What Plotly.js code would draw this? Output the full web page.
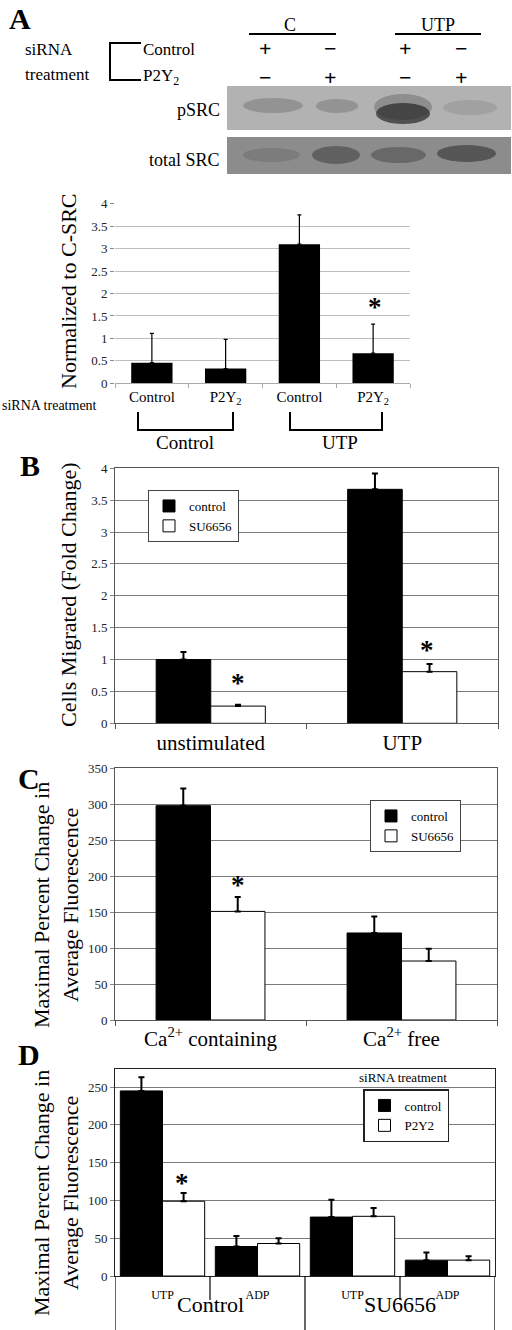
<!DOCTYPE html>
<html>
<head>
<meta charset="utf-8">
<script src="https://cdn.plot.ly/plotly-3.0.1.min.js"></script>
<style>html,body{margin:0;padding:0;background:#fff}#chart{width:512px;height:1330px}</style>
</head>
<body>
<div id="chart"></div>
<script>
// ---------- DATA ----------
// Panel A (densitometry, normalized to C-SRC)
const aKeys = ['C|Control', 'C|P2Y2', 'UTP|Control', 'UTP|P2Y2'];
const aTickText = ['Control', 'P2Y<sub>2</sub>', 'Control', 'P2Y<sub>2</sub>'];
const aValues = [0.46, 0.33, 3.10, 0.67];
const aErr = [0.65, 0.65, 0.65, 0.65];

// Panel B (cell migration, fold change)
const bCats = ['unstimulated', 'UTP'];
const bControl = [1.00, 3.67];
const bControlErr = [0.12, 0.25];
const bSU = [0.27, 0.81];
const bSUErr = [0.02, 0.12];

// Panel C (calcium response)
const cCats = ['Ca<sup>2+</sup> containing', 'Ca<sup>2+</sup> free'];
const cControl = [298, 121];
const cControlErr = [24, 23];
const cSU = [151, 82];
const cSUErr = [20, 17];

// Panel D (calcium response, siRNA)
const dGroups = ['Control', 'Control', 'SU6656', 'SU6656'];
const dStim = ['UTP', 'ADP', 'UTP', 'ADP'];
const dControl = [245, 39, 78, 21];
const dControlErr = [18, 14, 23, 10];
const dP2Y2 = [99, 43, 79, 21];
const dP2Y2Err = [11, 7, 11, 5];

// Blot header signs
const controlRow = ['+', '−', '+', '−'];
const p2y2Row = ['−', '+', '−', '+'];

// ---------- HELPERS ----------
const W = 512, H = 1330;
const X = px => px / W;
const Y = py => 1 - py / H;
const FONT = 'Liberation Serif';
const zeros = arr => arr.map(() => 0);
const dKeys = dGroups.map((g, i) => g + '|' + dStim[i]);

function err(arr, th, w) {
  return {type: 'data', array: arr, arrayminus: zeros(arr), symmetric: false,
          color: '#000', thickness: th, width: w, visible: true};
}

const traces = [
  // A
  {type: 'bar', x: aKeys, y: aValues, xaxis: 'x', yaxis: 'y', offset: -0.28, width: 0.56,
   marker: {color: '#000'}, error_y: err(aErr, 1.2, 2), showlegend: false, name: 'A'},
  // B
  {type: 'bar', x: bCats, y: bControl, xaxis: 'x2', yaxis: 'y2', offset: -0.285, width: 0.285,
   marker: {color: '#000', line: {color: '#000', width: 1}}, error_y: err(bControlErr, 2, 3),
   name: 'control', legend: 'legend'},
  {type: 'bar', x: bCats, y: bSU, xaxis: 'x2', yaxis: 'y2', offset: 0, width: 0.285,
   marker: {color: '#fff', line: {color: '#000', width: 1}}, error_y: err(bSUErr, 2, 3),
   name: 'SU6656', legend: 'legend'},
  // C
  {type: 'bar', x: cCats, y: cControl, xaxis: 'x3', yaxis: 'y3', offset: -0.285, width: 0.285,
   marker: {color: '#000', line: {color: '#000', width: 1}}, error_y: err(cControlErr, 2, 3),
   name: 'control', legend: 'legend2'},
  {type: 'bar', x: cCats, y: cSU, xaxis: 'x3', yaxis: 'y3', offset: 0, width: 0.285,
   marker: {color: '#fff', line: {color: '#000', width: 1}}, error_y: err(cSUErr, 2, 3),
   name: 'SU6656', legend: 'legend2'},
  // D
  {type: 'bar', x: dKeys, y: dControl, xaxis: 'x4', yaxis: 'y4', offset: -0.444, width: 0.444,
   marker: {color: '#000', line: {color: '#000', width: 1}}, error_y: err(dControlErr, 2, 3),
   name: 'control', legend: 'legend3'},
  {type: 'bar', x: dKeys, y: dP2Y2, xaxis: 'x4', yaxis: 'y4', offset: 0, width: 0.444,
   marker: {color: '#fff', line: {color: '#000', width: 1}}, error_y: err(dP2Y2Err, 2, 3),
   name: 'P2Y2', legend: 'legend3'}
];

// ---------- LAYOUT DECORATIONS ----------
const shapes = [];
const annotations = [];
function line(x0, y0, x1, y1, w, c) {
  shapes.push({type: 'line', xref: 'paper', yref: 'paper', x0: X(x0), y0: Y(y0), x1: X(x1), y1: Y(y1),
               line: {color: c || '#000', width: w || 2}});
}
function rect(x0, y0, x1, y1, fill) {
  shapes.push({type: 'rect', xref: 'paper', yref: 'paper', x0: X(x0), y0: Y(y0), x1: X(x1), y1: Y(y1),
               fillcolor: fill, line: {width: 0}, layer: 'below'});
}
function band(x0, y0, x1, y1, fill, op) {
  shapes.push({type: 'circle', xref: 'paper', yref: 'paper', x0: X(x0), y0: Y(y0), x1: X(x1), y1: Y(y1),
               fillcolor: fill, opacity: op, line: {width: 0}, layer: 'below'});
}
function txt(t, x, y, size, opts) {
  annotations.push(Object.assign({text: t, xref: 'paper', yref: 'paper', x: X(x), y: Y(y),
    showarrow: false, font: {family: FONT, size: size, color: '#000'}, xanchor: 'center', yanchor: 'middle'}, opts || {}));
}

// Panel letters
txt('<b>A</b>', 20, 18, 30);
txt('<b>B</b>', 30, 466, 30);
txt('<b>C</b>', 29, 778, 30);
txt('<b>D</b>', 29, 1054, 30);

// Blot header
txt('C', 290, 25, 18);
txt('UTP', 438, 25, 18);
line(249, 34, 336, 34, 2);
line(395, 34, 481, 34, 2);
txt('siRNA', 23, 49, 17, {xanchor: 'left'});
txt('treatment', 23, 75, 17, {xanchor: 'left'});
txt('Control', 141, 49, 17, {xanchor: 'left'});
txt('P2Y<sub>2</sub>', 141, 77, 17, {xanchor: 'left'});
shapes.push({type: 'path', xref: 'paper', yref: 'paper',
  path: `M ${X(141)},${Y(43)} L ${X(110)},${Y(43)} L ${X(110)},${Y(80)} L ${X(141)},${Y(80)}`,
  line: {color: '#000', width: 2}});
const laneX = [265, 330, 405, 461];
laneX.forEach((lx, i) => {
  txt('<b>' + controlRow[i] + '</b>', lx, 62.5, 22, {yanchor: 'bottom', borderpad: 0});
  txt('<b>' + p2y2Row[i] + '</b>', lx, 63.5, 22, {yanchor: 'top', borderpad: 0});
});
txt('pSRC', 222, 110, 18, {xanchor: 'right'});
txt('total SRC', 222, 160, 18, {xanchor: 'right'});

// Blot images (approximated)
rect(227, 86, 511, 130, '#b2b2b2');
rect(227, 137, 511, 174, '#8c8c8c');
band(243, 98, 303, 113, '#7e7e7e', 0.6);
band(316, 99, 358, 113, '#7e7e7e', 0.6);
band(374, 94, 432, 120, '#6a6a6a', 0.5);
band(376, 103, 430, 124, '#262626', 0.7);
band(443, 100, 497, 115, '#909090', 0.5);
band(243, 148, 300, 162, '#727272', 0.6);
band(312, 146, 360, 164, '#4f4f4f', 0.7);
band(371, 147, 426, 163, '#555', 0.65);
band(437, 145, 496, 162, '#444', 0.75);

// Panel A labels
txt('Normalized to C-SRC', 68, 291, 22, {textangle: -90});
txt('siRNA treatment', 0, 405, 14, {xanchor: 'left'});
line(138, 412, 138, 430, 2); line(137, 430, 234, 430, 2); line(233, 412, 233, 430, 2);
line(290, 412, 290, 430, 2); line(289, 430, 383, 430, 2); line(382, 412, 382, 430, 2);
txt('Control', 185, 442, 19);
txt('UTP', 340, 442, 19);

// Y titles
txt('Cells Migrated (Fold Change)', 68, 595, 22, {textangle: -90});
txt('Maximal Percent Change in<br>Average Fluorescence', 56, 905, 22, {textangle: -90});
txt('Maximal Percent Change in<br>Average Fluorescence', 56, 1193, 22, {textangle: -90});

// Stars
txt('<b>*</b>', 375, 307, 27);
txt('<b>*</b>', 238, 683, 27);
txt('<b>*</b>', 427, 650, 27);
txt('<b>*</b>', 238, 885, 27);
txt('<b>*</b>', 182, 1183, 27);

// Panel D: group labels, dividers, legend title
annotations.push({text: 'Control', xref: 'x4', yref: 'paper', x: 0.5, y: Y(1318), showarrow: false,
  borderpad: 0, font: {family: FONT, size: 22, color: '#000'}});
annotations.push({text: 'SU6656', xref: 'x4', yref: 'paper', x: 2.5, y: Y(1318), showarrow: false,
  borderpad: 0, font: {family: FONT, size: 22, color: '#000'}});
[[-0.5, 1330], [0.5, 1300], [1.5, 1330], [2.5, 1300], [3.5, 1330]].forEach(([cx, yb]) => {
  shapes.push({type: 'line', xref: 'x4', yref: 'paper', x0: cx, x1: cx, y0: Y(1276), y1: Y(yb),
               line: {color: '#000', width: 1.2}});
});
txt('siRNA treatment', 403, 1077, 13);

// ---------- AXES ----------
const tickFont = {family: FONT, size: 13, color: '#222'};
function yax(domain, range, dtick, grid, box) {
  return {domain: domain, range: range, dtick: dtick, tick0: 0, tickfont: tickFont,
    gridcolor: grid, gridwidth: 1, zeroline: false, showline: box, mirror: box ? true : false,
    linecolor: '#555', linewidth: 1, ticks: 'outside', ticklen: 4, tickcolor: '#888',
    fixedrange: true};
}

const layout = {
  width: W, height: H,
  margin: {l: 0, r: 0, t: 0, b: 0},
  paper_bgcolor: '#fff', plot_bgcolor: 'rgba(0,0,0,0)',
  barmode: 'overlay',
  font: {family: FONT, color: '#000'},
  showlegend: true,
  xaxis: {domain: [X(115), X(410)], anchor: 'y', type: 'category', tickvals: aKeys, ticktext: aTickText,
    tickfont: {family: FONT, size: 15, color: '#000'}, showline: true, linecolor: '#aaa',
    ticks: 'outside', tickson: 'boundaries', ticklen: 4, tickcolor: '#aaa', showgrid: false,
    range: [-0.5, 3.5]},
  yaxis: Object.assign(yax([Y(383.3), Y(203.7)], [0, 4.001], 0.5, '#bdbdbd', false), {anchor: 'x'}),
  xaxis2: {domain: [X(115), X(498)], anchor: 'y2', type: 'category', range: [-0.5, 1.5],
    tickfont: {family: FONT, size: 21, color: '#000'}, showline: true, mirror: true, linecolor: '#555',
    ticks: 'outside', tickson: 'boundaries', ticklen: 5, tickcolor: '#555', showgrid: false},
  yaxis2: Object.assign(yax([Y(723.3), Y(468.3)], [0, 4], 0.5, '#7a7a7a', true), {anchor: 'x2'}),
  xaxis3: {domain: [X(115), X(497)], anchor: 'y3', type: 'category', range: [-0.5, 1.5],
    tickfont: {family: FONT, size: 21, color: '#000'}, showline: true, mirror: true, linecolor: '#555',
    ticks: 'outside', tickson: 'boundaries', ticklen: 5, tickcolor: '#555', showgrid: false},
  yaxis3: Object.assign(yax([Y(1020), Y(768.3)], [0, 350], 50, '#7a7a7a', true), {anchor: 'x3'}),
  xaxis4: {domain: [X(115), X(495)], anchor: 'y4', type: 'category', range: [-0.5, 3.5],
    tickvals: dKeys, ticktext: dStim, ticklabelstandoff: 8,
    tickfont: {family: FONT, size: 12, color: '#000'}, showline: true, mirror: true, linecolor: '#222',
    ticks: '', showgrid: false},
  yaxis4: Object.assign(yax([Y(1276), Y(1069)], [0, 274], 50, '#7a7a7a', true), {anchor: 'x4', linecolor: '#222'}),
  legend: {x: X(148), y: Y(490), xanchor: 'left', yanchor: 'top', bgcolor: '#fff', bordercolor: '#444',
    borderwidth: 1, font: {family: FONT, size: 13, color: '#000'}, tracegroupgap: 0, itemwidth: 30},
  legend2: {x: X(370), y: Y(800), xanchor: 'left', yanchor: 'top', bgcolor: '#fff', bordercolor: '#444',
    borderwidth: 1, font: {family: FONT, size: 13, color: '#000'}, tracegroupgap: 0, itemwidth: 30},
  legend3: {x: X(363), y: Y(1089), xanchor: 'left', yanchor: 'top', bgcolor: '#fff', bordercolor: '#222',
    borderwidth: 1.5, font: {family: FONT, size: 13, color: '#000'}, tracegroupgap: 0, itemwidth: 30},
  shapes: shapes,
  annotations: annotations
};

Plotly.newPlot('chart', traces, layout, {staticPlot: true, displayModeBar: false});
</script>
</body>
</html>
